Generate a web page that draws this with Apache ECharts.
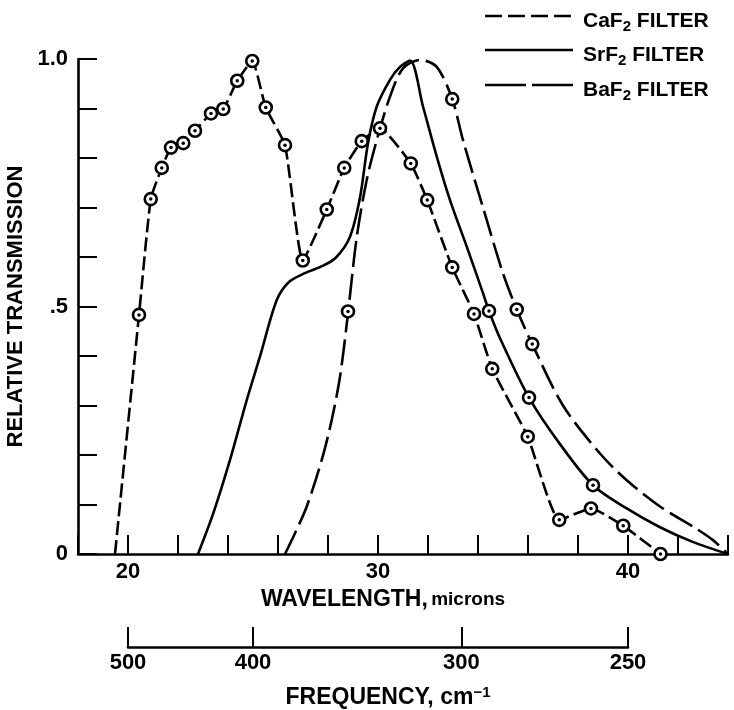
<!DOCTYPE html>
<html><head><meta charset="utf-8">
<script src="https://cdn.jsdelivr.net/npm/echarts@6/dist/echarts.min.js"></script>
<style>html,body{margin:0;padding:0;background:#fff}#c{width:734px;height:710px}</style>
</head><body><div id="c"></div>
<script>
// ---- data (wavelength in microns, relative transmission) ----
const caf2Curve = [[19.48,0],[20.44,0.483],[20.91,0.717],[21.35,0.780],[21.72,0.821],[22.21,0.830],[22.68,0.855],[23.32,0.890],[23.81,0.899],[24.37,0.956],[24.97,0.996],[25.51,0.902],[26.28,0.826],[26.99,0.593],[27.95,0.696],[28.65,0.780],[29.35,0.834],[30.08,0.860],[31.31,0.789],[31.97,0.715],[32.97,0.579],[33.84,0.485],[34.57,0.374],[35.99,0.237],[37.25,0.069],[38.52,0.092],[39.81,0.057],[41.3,0.0]];
const caf2Points = [[20.44,0.483],[20.91,0.717],[21.35,0.780],[21.72,0.821],[22.21,0.830],[22.68,0.855],[23.32,0.890],[23.81,0.899],[24.37,0.956],[24.97,0.996],[25.51,0.902],[26.28,0.826],[26.99,0.593],[27.95,0.696],[28.65,0.780],[29.35,0.834],[30.08,0.860],[31.31,0.789],[31.97,0.715],[32.97,0.579],[33.84,0.485],[34.57,0.374],[35.99,0.237],[37.25,0.069],[38.52,0.092],[39.81,0.057],[41.3,0.0]];
const srf2Curve = [[22.8,0],[23.41,0.082],[24.08,0.19],[24.75,0.311],[25.28,0.399],[25.95,0.513],[26.45,0.55],[27.1,0.568],[27.7,0.58],[28.3,0.598],[28.88,0.641],[29.28,0.72],[29.6,0.83],[29.95,0.904],[30.48,0.958],[30.88,0.984],[31.28,0.997],[31.8,0.904],[32.35,0.803],[32.88,0.715],[33.55,0.621],[34.2,0.527],[34.44,0.491],[34.88,0.436],[36.04,0.316],[37.28,0.222],[38.6,0.139],[39.95,0.092],[41.28,0.054],[42.61,0.024],[44,0]];
const srf2Points = [[34.44,0.491],[36.04,0.316],[38.6,0.139]];
const baf2Curve = [[26.28,0],[26.68,0.042],[27.15,0.096],[27.75,0.19],[28.15,0.271],[28.48,0.358],[28.77,0.473],[29.15,0.64],[29.55,0.756],[29.95,0.836],[30.48,0.924],[31.0,0.981],[31.68,0.998],[32.35,0.984],[32.97,0.919],[33.4,0.836],[34.2,0.70],[35.0,0.567],[35.55,0.494],[36.17,0.424],[37.4,0.30],[38.88,0.203],[39.95,0.149],[41.28,0.096],[42.61,0.055],[43.4,0.028],[44,0]];
const baf2Points = [[28.8,0.49],[32.97,0.919],[35.55,0.494],[36.17,0.424]];
const wavelengthLabels = [20, 30, 40];
const transmissionLabels = {0: '0', 0.5: '.5', 1: '1.0'};
const freqTicks = [500, 400, 300, 250];
const legendNames = ['CaF', 'SrF', 'BaF'];

const FONT = "'Liberation Sans', Arial, Helvetica, sans-serif";
const freqPos = freqTicks.map(f => 10000 / f);

function lineSeries(data, dash, smooth) {
  return {
    type: 'line', data: data, xAxisIndex: 0, yAxisIndex: 0,
    symbol: 'none', smooth: smooth, z: 2, silent: true,
    lineStyle: {color: '#000', width: 2.6, type: dash}
  };
}
function ringSeries(data) {
  return {
    type: 'scatter', data: data, xAxisIndex: 0, yAxisIndex: 0, z: 3, silent: true,
    symbol: 'circle', symbolSize: 12,
    itemStyle: {color: '#fff', borderColor: '#000', borderWidth: 2.6, opacity: 1}
  };
}
function dotSeries(data) {
  return {
    type: 'scatter', data: data, xAxisIndex: 0, yAxisIndex: 0, z: 4, silent: true,
    symbol: 'circle', symbolSize: 3.5,
    itemStyle: {color: '#000', opacity: 1}
  };
}

const legendY = [16, 50, 85];
const legendDash = [[17, 6], null, [41, 6]];
const graphic = [];
legendNames.forEach((n, i) => {
  graphic.push({
    type: 'line', shape: {x1: 485, y1: legendY[i], x2: 573, y2: legendY[i]},
    style: {stroke: '#000', lineWidth: 2.6, lineDash: legendDash[i] || null}
  });
  graphic.push({
    type: 'text', x: 583, y: legendY[i] + 5,
    style: {
      text: '{a|' + n + '}{s|2}{a| FILTER}',
      align: 'left', verticalAlign: 'middle',
      textAlign: 'left', textVerticalAlign: 'middle',
      fill: '#000',
      rich: {
        a: {fontFamily: FONT, fontWeight: 'bold', fontSize: 21, lineHeight: 26, fill: '#000', color: '#000'},
        s: {fontFamily: FONT, fontWeight: 'bold', fontSize: 15, lineHeight: 12, verticalAlign: 'bottom', fill: '#000', color: '#000'}
      }
    }
  });
});

const labelStyle = {color: '#000', fontFamily: FONT, fontWeight: 'bold', fontSize: 22};

const option = {
  animation: false,
  backgroundColor: '#fff',
  grid: [
    {left: 78, right: 6, top: 59, bottom: 156, containLabel: false, outerBoundsMode: 'none'},
    {left: 128, width: 500, top: 600, height: 47, containLabel: false, outerBoundsMode: 'none'}
  ],
  xAxis: [
    {
      gridIndex: 0, type: 'value', min: 18, max: 44, interval: 2,
      axisLine: {show: true, onZero: false, lineStyle: {color: '#000', width: 2.6}},
      axisTick: {show: true, inside: true, length: 19, lineStyle: {color: '#000', width: 2}},
      axisLabel: Object.assign({
        margin: 7, showMinLabel: true, showMaxLabel: true,
        formatter: v => (wavelengthLabels.indexOf(Math.round(v)) >= 0 && Math.abs(v - Math.round(v)) < 1e-6) ? String(Math.round(v)) : ''
      }, labelStyle),
      splitLine: {show: false},
      name: '{b|WAVELENGTH,} {m|microns}',
      nameLocation: 'middle', nameGap: 33,
      nameTextStyle: {
        padding: [0, 40, 0, 0],
        rich: {
          b: {fontFamily: FONT, fontWeight: 'bold', fontSize: 23, color: '#000'},
          m: {fontFamily: FONT, fontWeight: 'bold', fontSize: 19, color: '#000'}
        }
      }
    },
    {
      gridIndex: 1, type: 'value', min: 20, max: 40,
      axisLine: {show: true, onZero: false, lineStyle: {color: '#000', width: 2.6}},
      axisTick: {show: true, inside: true, length: 20, customValues: freqPos, lineStyle: {color: '#000', width: 2}},
      axisLabel: Object.assign({
        margin: 5, customValues: freqPos, showMinLabel: true, showMaxLabel: true,
        formatter: v => String(Math.round(10000 / v))
      }, labelStyle),
      splitLine: {show: false},
      name: '{b|FREQUENCY, cm}{s|−1}',
      nameLocation: 'middle', nameGap: 38,
      nameTextStyle: {
        padding: [0, 0, 0, 20],
        rich: {
          b: {fontFamily: FONT, fontWeight: 'bold', fontSize: 23, lineHeight: 26, color: '#000'},
          s: {fontFamily: FONT, fontWeight: 'bold', fontSize: 15, lineHeight: 12, verticalAlign: 'top', color: '#000'}
        }
      }
    }
  ],
  yAxis: [
    {
      gridIndex: 0, type: 'value', min: 0, max: 1, interval: 0.1,
      axisLine: {show: true, onZero: false, lineStyle: {color: '#000', width: 2.6}},
      axisTick: {show: true, inside: true, length: 19, lineStyle: {color: '#000', width: 2}},
      axisLabel: Object.assign({
        margin: 10, showMinLabel: true, showMaxLabel: true,
        formatter: v => {
          for (const k in transmissionLabels) { if (Math.abs(v - Number(k)) < 1e-6) return transmissionLabels[k]; }
          return '';
        }
      }, labelStyle),
      splitLine: {show: false},
      name: 'RELATIVE TRANSMISSION',
      nameLocation: 'middle', nameGap: 40, nameRotate: 90,
      nameTextStyle: {color: '#000', fontFamily: FONT, fontWeight: 'bold', fontSize: 22}
    },
    {gridIndex: 1, type: 'value', show: false, min: 0, max: 1}
  ],
  graphic: graphic,
  series: [
    lineSeries(caf2Curve, [14, 5], 0.15),
    lineSeries(srf2Curve, 'solid', 0.3),
    lineSeries(baf2Curve, [26, 7], 0.3),
    ringSeries(caf2Points), ringSeries(srf2Points), ringSeries(baf2Points),
    dotSeries(caf2Points), dotSeries(srf2Points), dotSeries(baf2Points)
  ]
};
const chart = echarts.init(document.getElementById('c'), null, {renderer: 'canvas'});
chart.setOption(option);
</script></body></html>
